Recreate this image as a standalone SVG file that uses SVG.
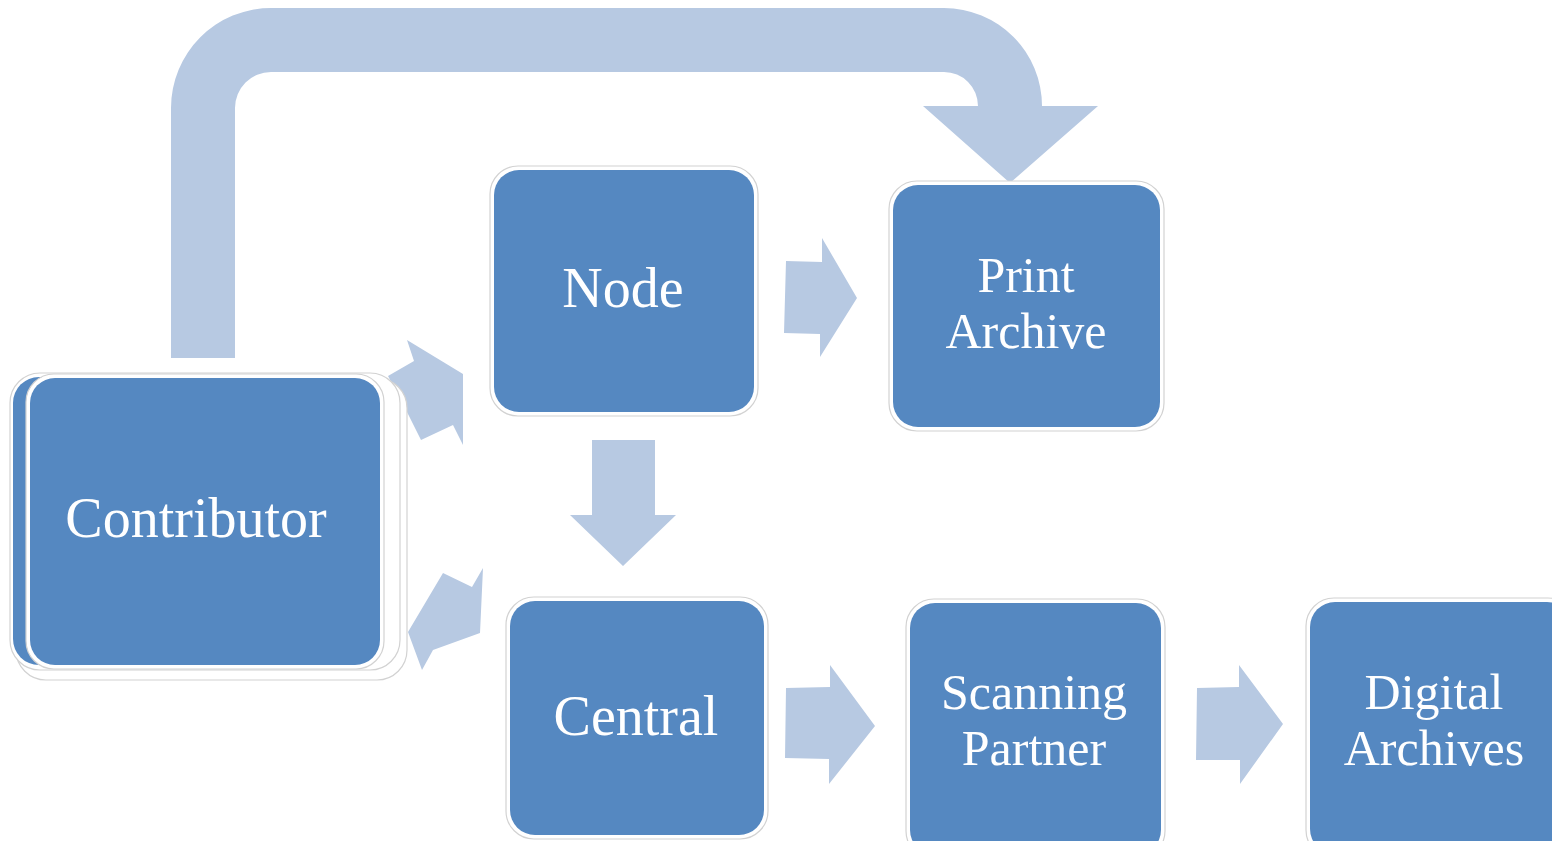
<svg xmlns="http://www.w3.org/2000/svg" width="1552" height="841" viewBox="0 0 1552 841">
<style>
.halo{fill:#fff;stroke:#d2d2d2;stroke-width:1.2}
.box{fill:#5588c1}
.arrow{fill:#b7c9e2}
.lbl{font-family:"Liberation Serif","Times New Roman",serif;font-size:56px;fill:#fff;text-anchor:middle}
.two{font-size:50px}
</style>
<rect width="1552" height="841" fill="#fff"/>
<g id="connectors">
<path class="arrow" d="M171,358 L171,108 A100,100 0 0 1 271,8 L944,8 A98,98 0 0 1 1042,106 L1098,106 L1010,183 L923,106 L978,106 A34,34 0 0 0 944,72 L271,72 A36,36 0 0 0 235,108 L235,358 Z"/>
<polygon class="arrow" points="414,361 407,340 463,374 463,445 453,425 421,440 404,406 388,376"/>
<polygon class="arrow" points="443,573 472,587 483,568 480,633 433,650 422,670 408,632"/>
<polygon class="arrow" points="786,261 822,262 822,238 857,298 820,357 820,334 784,333"/>
<polygon class="arrow" points="592,440 655,440 655,515 676,515 623,566 570,515 592,515"/>
<polygon class="arrow" points="786,688 830,687 830,665 875,726 829,784 829,759 785,758"/>
<polygon class="arrow" points="1197,688 1239,687 1239,665 1283,724 1240,784 1240,760 1196,760"/>
</g>
<g id="contributor">
<rect class="halo" x="16" y="378" width="391" height="302" rx="30"/>
<rect class="halo" x="10" y="373" width="390" height="297" rx="30"/>
<rect class="box" x="13" y="377" width="340" height="288" rx="26"/>
<rect class="halo" x="26" y="374" width="358" height="295" rx="28"/>
<rect class="box" x="30" y="378" width="350" height="287" rx="25"/>
<text class="lbl" x="196" y="537" font-size="57">Contributor</text>
</g>
<g id="node">
<rect class="halo" x="490" y="166" width="268" height="250" rx="28"/>
<rect class="box" x="494" y="170" width="260" height="242" rx="25"/>
<text class="lbl" x="623" y="307">Node</text>
</g>
<g id="print-archive">
<rect class="halo" x="889" y="181" width="275" height="250" rx="28"/>
<rect class="box" x="893" y="185" width="267" height="242" rx="25"/>
<text class="lbl two" x="1026" y="292"><tspan x="1026">Print</tspan><tspan x="1026" dy="56">Archive</tspan></text>
</g>
<g id="central">
<rect class="halo" x="506" y="597" width="262" height="242" rx="28"/>
<rect class="box" x="510" y="601" width="254" height="234" rx="25"/>
<text class="lbl" x="636" y="735">Central</text>
</g>
<g id="scanning-partner">
<rect class="halo" x="906" y="599" width="259" height="260" rx="28"/>
<rect class="box" x="910" y="603" width="251" height="252" rx="25"/>
<text class="lbl two" x="1034" y="709"><tspan x="1034">Scanning</tspan><tspan x="1034" dy="56">Partner</tspan></text>
</g>
<g id="digital-archives">
<rect class="halo" x="1306" y="598" width="270" height="260" rx="28"/>
<rect class="box" x="1310" y="602" width="262" height="252" rx="25"/>
<text class="lbl two" x="1434" y="709"><tspan x="1434">Digital</tspan><tspan x="1434" dy="56">Archives</tspan></text>
</g>
</svg>
